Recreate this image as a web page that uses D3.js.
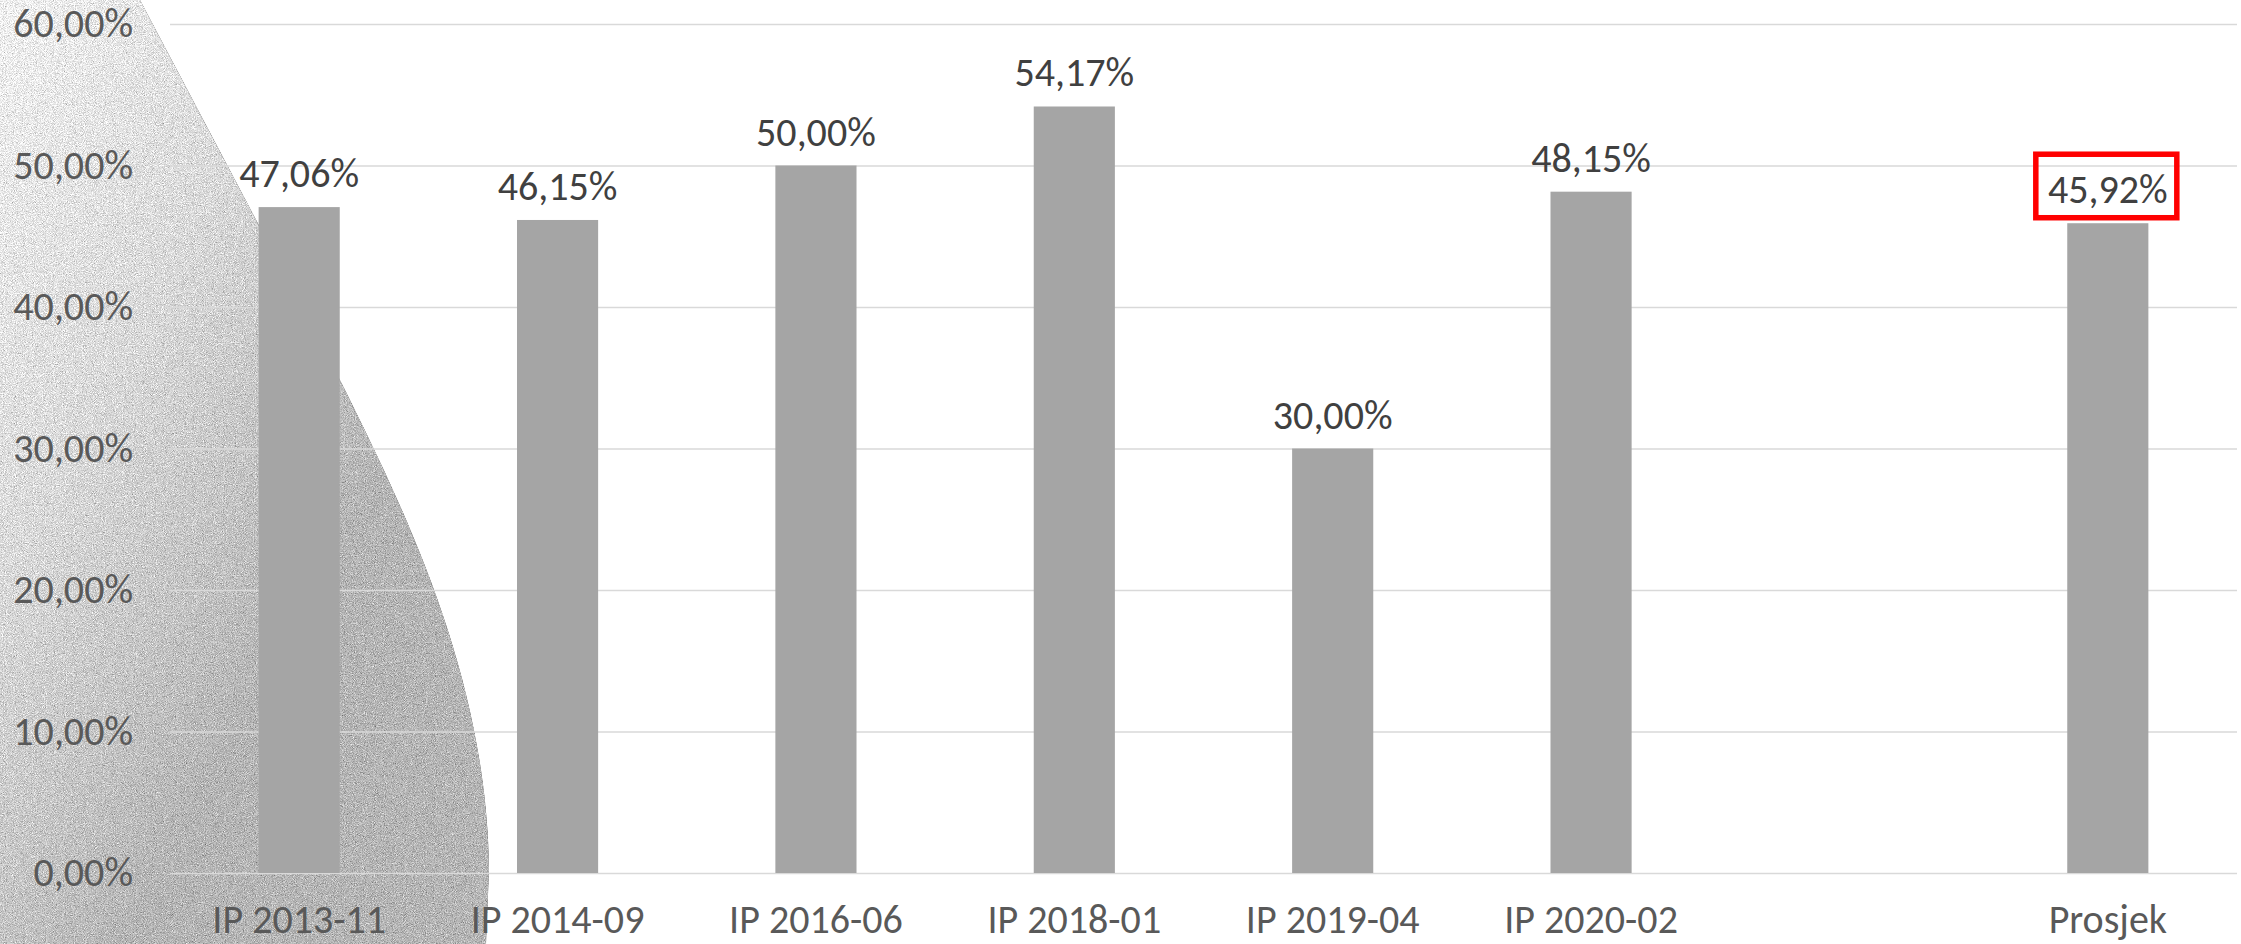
<!DOCTYPE html>
<html>
<head>
<meta charset="utf-8">
<script src="https://cdn.jsdelivr.net/npm/d3@7"></script>
<style>
  body { margin: 0; background: #fff; }
  text { font-family: Calibri, Carlito, Lato, "Open Sans", sans-serif; }
</style>
</head>
<body>
<div id="chart-area"></div>
<script>

// data
var categories = ["IP 2013-11", "IP 2014-09", "IP 2016-06", "IP 2018-01", "IP 2019-04", "IP 2020-02", "", "Prosjek"];
var values = [0.4706, 0.4615, 0.5000, 0.5417, 0.3000, 0.4815, null, 0.4592];
var yTicks = [0, 0.1, 0.2, 0.3, 0.4, 0.5, 0.6];
var highlighted = "Prosjek";

var margin = { left: 170, right: 4, top: 24, bottom: 71 };
var width = 2241 - margin.left - margin.right,
    height = 944 - margin.top - margin.bottom;

var locale = d3.formatLocale({ decimal: ",", thousands: ".", grouping: [3], currency: ["", " €"] });
var pct = locale.format(".2%");

var svg = d3.select("#chart-area")
    .append("svg")
        .attr("width", 2241)
        .attr("height", 944);

// grainy grey shape behind the left part of the chart
var defs = svg.append("defs");
var grad = defs.append("linearGradient")
    .attr("id", "shade")
    .attr("gradientUnits", "userSpaceOnUse")
    .attr("x1", 0).attr("y1", 0).attr("x2", 490).attr("y2", 260);
grad.append("stop").attr("offset", "0%").attr("stop-color", "#f2f2f2");
grad.append("stop").attr("offset", "50%").attr("stop-color", "#dadada");
grad.append("stop").attr("offset", "100%").attr("stop-color", "#b6b6b6");

var filter = defs.append("filter")
    .attr("id", "grain")
    .attr("x", 0).attr("y", 0).attr("width", "100%").attr("height", "100%")
    .attr("color-interpolation-filters", "sRGB");
filter.append("feTurbulence")
    .attr("type", "fractalNoise")
    .attr("baseFrequency", 1.1)
    .attr("numOctaves", 2)
    .attr("seed", 7)
    .attr("result", "noise");
filter.append("feColorMatrix")
    .attr("in", "noise")
    .attr("type", "matrix")
    .attr("values", "0.33 0.33 0.33 0 0  0.33 0.33 0.33 0 0  0.33 0.33 0.33 0 0  0 0 0 0 1")
    .attr("result", "gray");
filter.append("feComposite")
    .attr("in", "SourceGraphic")
    .attr("in2", "gray")
    .attr("operator", "arithmetic")
    .attr("k1", 0).attr("k2", 1).attr("k3", 1.1).attr("k4", -0.55)
    .attr("result", "mix");
filter.append("feComposite")
    .attr("in", "mix")
    .attr("in2", "SourceAlpha")
    .attr("operator", "in");

svg.append("path")
    .attr("d", "M0,0 H140 L330,360 C400,500 487,670 489,870 L486,944 H0 Z")
    .attr("fill", "url(#shade)")
    .attr("filter", "url(#grain)");

var g = svg.append("g")
    .attr("transform", "translate(" + margin.left + ", " + margin.top + ")");

// X Scale
var x = d3.scaleBand()
    .domain(categories)
    .range([0, width])
    .paddingInner(0.686)
    .paddingOuter(0.343);

// Y Scale
var y = d3.scaleLinear()
    .domain([0, 0.6])
    .range([height, 0]);

// Y Axis + gridlines
var yAxisCall = d3.axisLeft(y)
    .tickValues(yTicks)
    .tickSize(-width)
    .tickPadding(37)
    .tickFormat(pct);
var yAxis = g.append("g")
    .attr("class", "y axis")
    .call(yAxisCall);
yAxis.select(".domain").remove();
yAxis.selectAll("line")
    .attr("stroke", "#d9d9d9")
    .attr("stroke-width", 1.4);
yAxis.selectAll("text")
    .attr("fill", "#595959")
    .attr("font-size", "40px")
    .attr("font-family", null);

// X Axis
var xAxisCall = d3.axisBottom(x)
    .tickSize(0)
    .tickPadding(32);
var xAxis = g.append("g")
    .attr("class", "x axis")
    .attr("transform", "translate(0," + height + ")")
    .call(xAxisCall);
xAxis.select(".domain").remove();
xAxis.selectAll("text")
    .attr("fill", "#595959")
    .attr("font-size", "40px")
    .attr("font-family", null);

var data = categories.map(function(c, i) { return { cat: c, value: values[i] }; })
    .filter(function(d) { return d.value != null; });

// Bars
g.selectAll("rect.bar")
    .data(data)
    .enter()
    .append("rect")
        .attr("class", "bar")
        .attr("x", function(d){ return x(d.cat); })
        .attr("y", function(d){ return y(d.value); })
        .attr("width", x.bandwidth())
        .attr("height", function(d){ return height - y(d.value); })
        .attr("fill", "#a5a5a5");

// Value labels
g.selectAll("text.label")
    .data(data)
    .enter()
    .append("text")
        .attr("class", "label")
        .attr("x", function(d){ return x(d.cat) + x.bandwidth() / 2; })
        .attr("y", function(d){ return y(d.value) - 20; })
        .attr("text-anchor", "middle")
        .attr("font-size", "40px")
        .attr("fill", "#404040")
        .text(function(d){ return pct(d.value); });

// red box round the average
g.selectAll("rect.mark")
    .data(data.filter(function(d) { return d.cat == highlighted; }))
    .enter()
    .append("rect")
        .attr("class", "mark")
        .attr("x", function(d){ return x(d.cat) + x.bandwidth() / 2 - 72; })
        .attr("y", function(d){ return y(d.value) - 69; })
        .attr("width", 141)
        .attr("height", 63.5)
        .attr("fill", "none")
        .attr("stroke", "#ff0000")
        .attr("stroke-width", 5.5);

</script>
</body>
</html>
